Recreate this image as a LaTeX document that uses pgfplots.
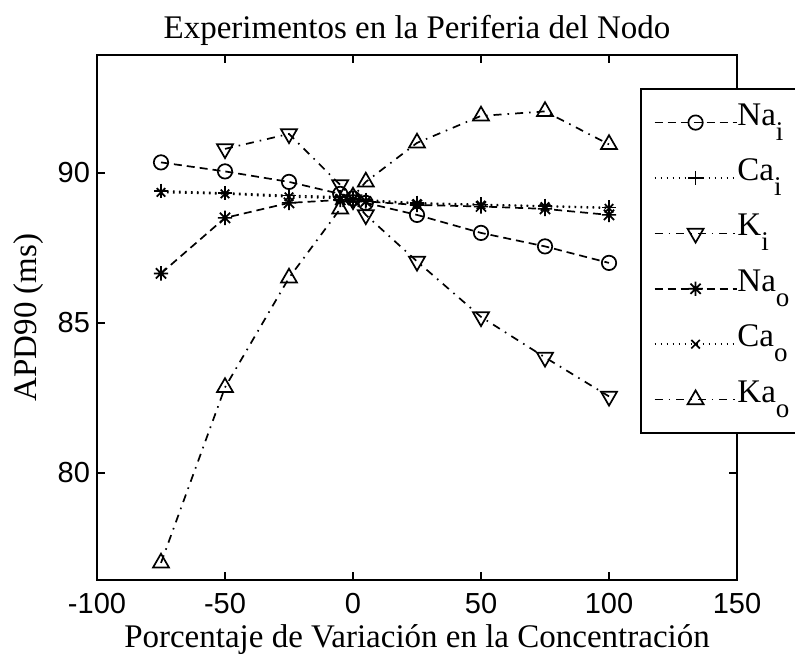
\documentclass[border=0pt]{standalone}
\usepackage{pgfplots}
\pgfplotsset{compat=1.18}
\usepackage{fontspec}
\setmainfont{Liberation Serif}
\newfontfamily\ticksf{Liberation Sans}
\newcommand{\sub}[1]{\raisebox{-7.5pt}{\fontsize{13.5}{13.5}\selectfont #1}}
\pgfdeclareplotmark{ast8}{%
  \pgfpathmoveto{\pgfqpoint{-\pgfplotmarksize}{0pt}}\pgfpathlineto{\pgfqpoint{\pgfplotmarksize}{0pt}}%
  \pgfpathmoveto{\pgfqpoint{0pt}{-\pgfplotmarksize}}\pgfpathlineto{\pgfqpoint{0pt}{\pgfplotmarksize}}%
  \pgfpathmoveto{\pgfqpoint{-0.707\pgfplotmarksize}{-0.707\pgfplotmarksize}}\pgfpathlineto{\pgfqpoint{0.707\pgfplotmarksize}{0.707\pgfplotmarksize}}%
  \pgfpathmoveto{\pgfqpoint{-0.707\pgfplotmarksize}{0.707\pgfplotmarksize}}\pgfpathlineto{\pgfqpoint{0.707\pgfplotmarksize}{-0.707\pgfplotmarksize}}%
  \pgfusepathqstroke}
\begin{document}
\begin{tikzpicture}
\begin{axis}[
  name=ax,
  scale only axis, width=320pt, height=262.5pt,
  xmin=-100, xmax=150, ymin=76.43, ymax=93.93,
  xtick={-100,-50,0,50,100,150}, ytick={80,85,90},
  tick align=inside, major tick length=4pt,
  tick style={black, line width=0.8pt},
  axis line style={line width=1pt},
  ticklabel style={font=\ticksf\fontsize{14.5}{17}\selectfont},
  xticklabel style={yshift=-3pt},
  /pgf/number format/assume math mode=true,
  every axis title shift=0pt,
  title={Experimentos en la Periferia del Nodo},
  title style={font=\fontsize{16.5}{19}\selectfont, at={(axis description cs:0.5,1)}, anchor=center, yshift=12.5pt},
  xlabel={Porcentaje de Variación en la Concentración},
  xlabel style={font=\fontsize{16.5}{19}\selectfont, at={(axis description cs:0.5,0)}, anchor=center, yshift=-30pt},
  ylabel={APD90 (ms)},
  ylabel style={font=\fontsize{16.5}{19}\selectfont, at={(axis description cs:-0.10625,0.5)}, anchor=center},
  legend cell align=left,
  legend image code/.code={\draw[mark repeat=2,mark phase=2,#1] plot coordinates {(0pt,0pt) (20.5pt,0pt) (41pt,0pt)};},
  legend style={at={(axis description cs:0.848,0.937)}, anchor=north west, draw=black, line width=1pt,
    inner xsep=6.5pt, inner ysep=7pt, row sep=8.2pt,
    font=\fontsize{16.5}{19}\selectfont,
    nodes={inner sep=0pt, text height=11pt, text depth=8.5pt},
    /tikz/every even column/.append style={column sep=3.5pt}},
  every axis plot/.append style={black, line width=0.85pt},
]
\addplot[dash pattern=on 4pt off 2.5pt, mark=o, mark size=3.6pt, mark options={solid}] coordinates {
(-75,90.35) (-50,90.05) (-25,89.7) (-5,89.3) (0,89.15) (5,89.0) (25,88.6) (50,88.0) (75,87.55) (100,87.0)};
\addlegendentry{Na\sub{i}}
\addplot[dash pattern=on 0.8pt off 2.2pt, mark=+, mark size=3.6pt, mark options={solid}] coordinates {
(-75,89.4) (-50,89.33) (-25,89.25) (-5,89.2) (0,89.15) (5,89.1) (25,89.0) (50,88.95) (75,88.9) (100,88.85)};
\addlegendentry{Ca\sub{i}}
\addplot[dash pattern=on 4pt off 3pt on 0.8pt off 3pt, mark=triangle, mark size=4.6pt, mark options={solid, rotate=180}] coordinates {
(-50,90.8) (-25,91.3) (-5,89.6) (0,89.1) (5,88.6) (25,87.05) (50,85.2) (75,83.85) (100,82.55)};
\addlegendentry{K\sub{i}}
\addplot[dash pattern=on 4pt off 2.5pt, mark=ast8, mark size=3.6pt, mark options={solid}] coordinates {
(-75,86.65) (-50,88.5) (-25,89.0) (-5,89.1) (0,89.1) (5,89.05) (25,88.93) (50,88.88) (75,88.8) (100,88.6)};
\addlegendentry{Na\sub{o}}
\addplot[dash pattern=on 0.8pt off 2.2pt, mark=x, mark size=3pt, mark options={solid}] coordinates {
(-75,89.35) (-50,89.3) (-25,89.2) (-5,89.15) (0,89.1) (5,89.05) (25,88.98) (50,88.93) (75,88.88) (100,88.82)};
\addlegendentry{Ca\sub{o}}
\addplot[dash pattern=on 4pt off 3pt on 0.8pt off 3pt, mark=triangle, mark size=4.6pt, mark options={solid}] coordinates {
(-75,77.0) (-50,82.85) (-25,86.5) (-5,88.8) (0,89.2) (5,89.7) (25,91.0) (50,91.9) (75,92.05) (100,90.95)};
\addlegendentry{Ka\sub{o}}
\end{axis}
\pgfresetboundingbox
\path[use as bounding box] ([xshift=-48.5pt,yshift=-42pt]ax.south west) rectangle ([xshift=29pt,yshift=27.5pt]ax.north east);
\end{tikzpicture}
\end{document}
